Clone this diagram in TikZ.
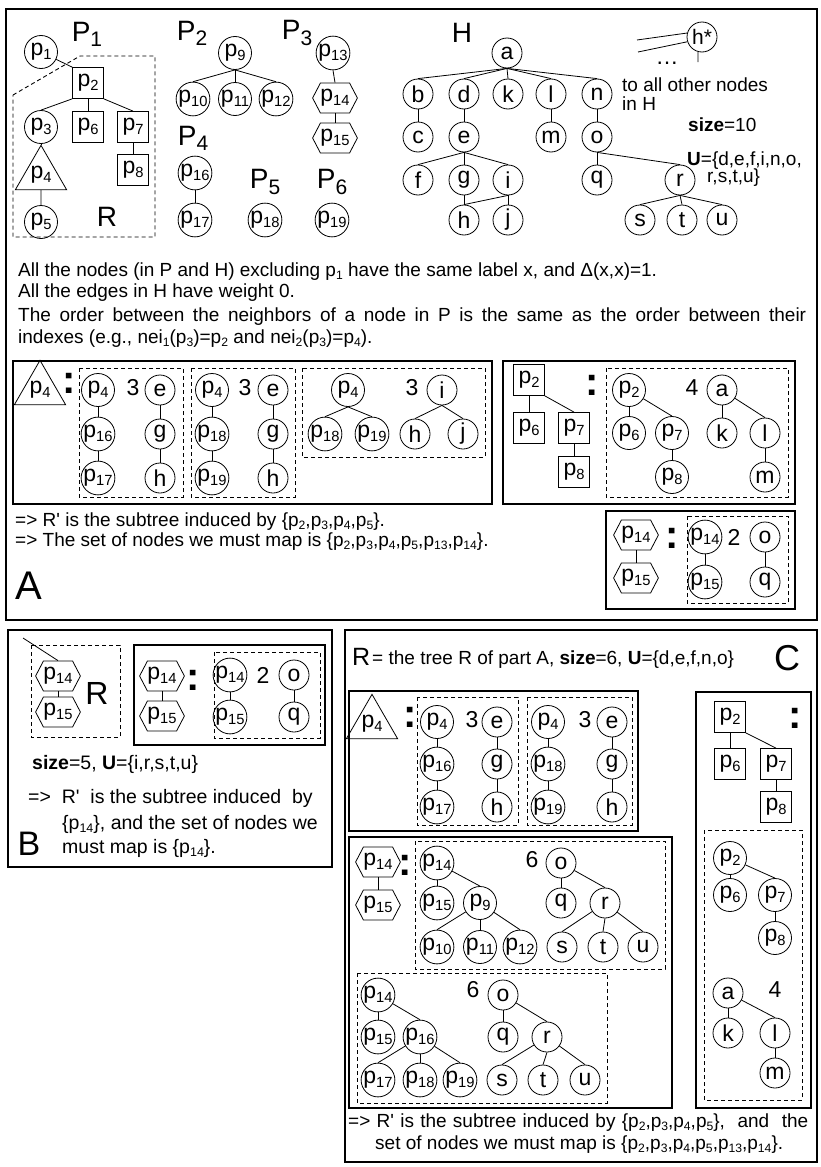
\documentclass[tikz,border=0pt]{standalone}
\usepackage{fontspec}
\setmainfont{Liberation Sans}[Ligatures=TeXOff]
\usepackage{graphicx}
\usetikzlibrary{shapes.geometric,shapes.symbols}
\newcommand\nf{\fontsize{23}{27}\selectfont}
\newcommand\lf{\fontsize{23}{27}\selectfont}
\newcommand\tf{\fontsize{19}{22}\selectfont}
\newcommand\tfb{\fontsize{19.5}{25}\selectfont}
\newcommand\bgf{\fontsize{28}{32}\selectfont}
\newcommand\sbs[1]{\raisebox{-0.3ex}{\scalebox{0.64}{#1}}}
\newcommand\bsbs[1]{\raisebox{-0.35ex}{\scalebox{0.75}{#1}}}
\newcommand\tedge[2]{\draw[edge] (#1.south) -- (#2.north);}
\newcommand\cedge[2]{\draw[edge] (#1) -- (#2.north);}
\begin{document}
\begin{tikzpicture}[x=1pt,y=-1pt,
  pc/.style={circle,draw,line width=0.8pt,minimum size=33pt,inner sep=0pt,font=\nf},
  lc/.style={circle,draw,line width=0.8pt,minimum size=30pt,inner sep=0pt,font=\lf},
  sq/.style={rectangle,draw,line width=0.8pt,minimum size=31pt,inner sep=0pt,font=\nf},
  tri/.style={regular polygon,regular polygon sides=3,draw,line width=0.8pt,minimum size=49pt,inner sep=0pt,font=\nf},
  hexn/.style={signal,signal to=east and west,signal pointer angle=125,draw,line width=0.8pt,minimum width=44pt,minimum height=30pt,inner sep=0pt,font=\nf},
  edge/.style={line width=0.8pt},
  sbox/.style={draw,line width=1.2pt},
  dbox/.style={draw,line width=0.9pt,dash pattern=on 4pt off 3pt},
  txt/.style={anchor=west,inner sep=0pt,font=\tf},
  txtb/.style={anchor=west,inner sep=0pt,font=\tfb},
  num/.style={inner sep=0pt,font=\nf},
  bigl/.style={inner sep=0pt,font=\bgf},
  colon/.style={inner sep=0pt,font=\fontsize{40}{40}\selectfont\bfseries},
]
\useasboundingbox (0,0) rectangle (821,1167);
% ===== outer boxes
\draw[sbox] (6,9) rectangle (817,620);
\draw[sbox] (8,630) rectangle (332,867);
\draw[sbox] (345,630) rectangle (817,1162);

% ===== P1
\node[bigl] (lP1) at (87,34) {P\bsbs{1}};
\node[pc] (tp1) at (41,52) {p\sbs{1}};
\node[sq] (tp2) at (88,83) {p\sbs{2}};
\node[pc] (tp3) at (41,127) {p\sbs{3}};
\node[sq] (tp6) at (88,127) {p\sbs{6}};
\node[sq] (tp7) at (133,127) {p\sbs{7}};
\node[sq] (tp8) at (133,170) {p\sbs{8}};
\node[tri] (tp4) at (41,175) {p\sbs{4}};
\node[pc] (tp5) at (41,222) {p\sbs{5}};
\node[bigl] (lR) at (107,217) {R};
\draw[dbox] (13,95) -- (80,56) -- (155,56) -- (155,237) -- (13,237) -- cycle;
\draw[edge] (tp1) -- (tp2.north west);
\draw[edge] (tp2.south west) -- (tp3.north);
\tedge{tp2}{tp6}
\draw[edge] (tp2.south east) -- (tp7.north);
\tedge{tp7}{tp8}
\draw[edge] (tp3.south) -- (tp4.corner 1);
\tedge{tp4}{tp5}
% P2
\node[bigl] (lP2) at (192,33) {P\bsbs{2}};
\node[pc] (tp9) at (235,53) {p\sbs{9}};
\node[pc] (tp10) at (193,99) {p\sbs{10}};
\node[pc] (tp11) at (235,99) {p\sbs{11}};
\node[pc] (tp12) at (276,99) {p\sbs{12}};
\tedge{tp9}{tp10}\tedge{tp9}{tp11}\tedge{tp9}{tp12}
% P3
\node[bigl] (lP3) at (297,33) {P\bsbs{3}};
\node[pc] (tp13) at (333,53) {p\sbs{13}};
\node[hexn] (tp14) at (335,98) {p\sbs{14}};
\node[hexn] (tp15) at (335,138) {p\sbs{15}};
\tedge{tp13}{tp14}\tedge{tp14}{tp15}
% P4 P5 P6
\node[bigl] (lP4) at (193,138) {P\bsbs{4}};
\node[pc] (tp16) at (195,173) {p\sbs{16}};
\node[pc] (tp17) at (195,220) {p\sbs{17}};
\tedge{tp16}{tp17}
\node[bigl] (lP5) at (265,182) {P\bsbs{5}};
\node[pc] (tp18) at (265,220) {p\sbs{18}};
\node[bigl] (lP6) at (332,182) {P\bsbs{6}};
\node[pc] (tp19) at (332,220) {p\sbs{19}};

% ===== H
\node[bigl] (lH) at (462,33) {H};
\node[lc] (ha) at (507,53) {a};
\node[lc] (hb) at (418,94) {b};
\node[lc] (hd) at (464,94) {d};
\node[lc] (hk) at (508,94) {k};
\node[lc] (hl) at (551,94) {l};
\node[lc] (hn) at (597,94) {n};
\node[lc] (hc) at (418,137) {c};
\node[lc] (he) at (464,137) {e};
\node[lc] (hm) at (551,137) {m};
\node[lc] (ho) at (597,137) {o};
\node[lc] (hf) at (418,180) {f};
\node[lc] (hg) at (464,180) {g};
\node[lc] (hi) at (508,180) {i};
\node[lc] (hq) at (597,180) {q};
\node[lc] (hr) at (680,180) {r};
\node[lc] (hh) at (464,220) {h};
\node[lc] (hj) at (508,220) {j};
\node[lc] (hs) at (640,220) {s};
\node[lc] (ht) at (682,220) {t};
\node[lc] (hu) at (722,220) {u};
\tedge{ha}{hb}\tedge{ha}{hd}\tedge{ha}{hk}\tedge{ha}{hl}\tedge{ha}{hn}
\tedge{hb}{hc}\tedge{hd}{he}\tedge{hl}{hm}\tedge{hn}{ho}
\tedge{he}{hf}\tedge{he}{hg}\tedge{he}{hi}
\tedge{hg}{hh}\tedge{hi}{hh}\tedge{hi}{hj}
\tedge{ho}{hq}\tedge{ho}{hr}
\tedge{hr}{hs}\tedge{hr}{ht}\tedge{hr}{hu}
\node[lc,font=\fontsize{21}{25}\selectfont] (hstar) at (702,37) {h*};
\coordinate (hx1) at (637,40);
\coordinate (hx2) at (638,52);
\coordinate (hx3) at (698,62);
\draw[edge] (hstar.165) -- (hx1);
\draw[edge] (hstar.198) -- (hx2);
\draw[edge] (hstar.255) -- (hx3);
\node[num] (hdots) at (667,63) {…};
\node[txt] (hto1) at (622,85) {to all other nodes};
\node[txt] (hto2) at (622,104) {in H};
\node[txt] (hsize) at (688,125) {\textbf{size}=10};
\node[txt] (hU1) at (687,161) {\textbf{U}=\{d,e,f,i,n,o,};
\node[txt] (hU2) at (707,178) {r,s,t,u\}};

% ===== paragraph
\node[txt] (tx1) at (18,272) {All the nodes (in P and H) excluding p\sbs{1} have the same label x, and Δ(x,x)=1.};
\node[txt] (tx2) at (18,293) {All the edges in H have weight 0.};
\node[txt] (tx3) at (18,317) {\makebox[788pt][s]{The order between the neighbors of a node in P is the same as the order between their}};
\node[txt] (tx4) at (18,339) {indexes (e.g., nei\sbs{1}(p\sbs{3})=p\sbs{2} and nei\sbs{2}(p\sbs{3})=p\sbs{4}).};

% ===== A left box
\draw[sbox] (13,361) rectangle (492,504);
\node[tri] (alt) at (40,390) {p\sbs{4}};
\node[colon] (alc) at (69,383) {:};
\draw[dbox] (79,368) rectangle (183,497);
\node[pc] (a1p4) at (98,390) {p\sbs{4}};
\node[num] (a1n) at (133,388) {3};
\node[lc] (a1e) at (160,390) {e};
\node[pc] (a1p16) at (98,434) {p\sbs{16}};
\node[lc] (a1g) at (160,434) {g};
\node[pc] (a1p17) at (98,478) {p\sbs{17}};
\node[lc] (a1h) at (160,478) {h};
\tedge{a1p4}{a1p16}\tedge{a1p16}{a1p17}\tedge{a1e}{a1g}\tedge{a1g}{a1h}
\draw[dbox] (191,368) rectangle (295,497);
\node[pc] (a2p4) at (212,390) {p\sbs{4}};
\node[num] (a2n) at (245,388) {3};
\node[lc] (a2e) at (273,390) {e};
\node[pc] (a2p18) at (212,434) {p\sbs{18}};
\node[lc] (a2g) at (273,434) {g};
\node[pc] (a2p19) at (212,478) {p\sbs{19}};
\node[lc] (a2h) at (273,478) {h};
\tedge{a2p4}{a2p18}\tedge{a2p18}{a2p19}\tedge{a2e}{a2g}\tedge{a2g}{a2h}
\draw[dbox] (302,368) rectangle (485,457);
\node[pc] (a3p4) at (348,390) {p\sbs{4}};
\node[num] (a3n) at (412,388) {3};
\node[lc] (a3i) at (442,390) {i};
\node[pc] (a3p18) at (325,434) {p\sbs{18}};
\node[pc] (a3p19) at (372,434) {p\sbs{19}};
\node[lc] (a3h) at (415,434) {h};
\node[lc] (a3j) at (463,434) {j};
\tedge{a3p4}{a3p18}\tedge{a3p4}{a3p19}\tedge{a3i}{a3h}\tedge{a3i}{a3j}

% ===== A right box
\draw[sbox] (503,361) rectangle (795,504);
\node[sq] (arp2) at (529,380) {p\sbs{2}};
\node[colon] (arc) at (592,385) {:};
\node[sq] (arp6) at (529,428) {p\sbs{6}};
\node[sq] (arp7) at (574,428) {p\sbs{7}};
\node[sq] (arp8) at (574,472) {p\sbs{8}};
\tedge{arp2}{arp6}
\draw[edge] (arp2.south east) -- (arp7.north);
\tedge{arp7}{arp8}
\draw[dbox] (606,368) rectangle (788,497);
\node[pc] (arcp2) at (629,390) {p\sbs{2}};
\node[num] (arn) at (692,388) {4};
\node[lc] (arca) at (722,390) {a};
\node[pc] (arcp6) at (629,433) {p\sbs{6}};
\node[pc] (arcp7) at (672,433) {p\sbs{7}};
\node[pc] (arcp8) at (672,477) {p\sbs{8}};
\node[lc] (arck) at (722,433) {k};
\node[lc] (arcl) at (765,433) {l};
\node[lc] (arcm) at (765,477) {m};
\tedge{arcp2}{arcp6}\cedge{arcp2}{arcp7}\tedge{arcp7}{arcp8}
\tedge{arca}{arck}\cedge{arca}{arcl}\tedge{arcl}{arcm}

% ===== A bottom-right box
\draw[sbox] (606,511) rectangle (795,609);
\node[hexn] (abh14) at (636,535) {p\sbs{14}};
\node[hexn] (abh15) at (636,578) {p\sbs{15}};
\tedge{abh14}{abh15}
\node[colon] (abc) at (672,538) {:};
\draw[dbox] (687,516) rectangle (788,603);
\node[pc] (abp14) at (705,537) {p\sbs{14}};
\node[num] (abn) at (734,537) {2};
\node[lc] (abo) at (765,537) {o};
\node[pc] (abp15) at (705,582) {p\sbs{15}};
\node[lc] (abq) at (765,582) {q};
\tedge{abp14}{abp15}\tedge{abo}{abq}

\node[txt] (atx1) at (15,522) {=> R' is the subtree induced by \{p\sbs{2},p\sbs{3},p\sbs{4},p\sbs{5}\}.};
\node[txt] (atx2) at (15,542) {=> The set of nodes we must map is \{p\sbs{2},p\sbs{3},p\sbs{4},p\sbs{5},p\sbs{13},p\sbs{14}\}.};
\node[inner sep=0pt,font=\fontsize{40}{40}\selectfont] (lA) at (29,586) {A};

% ===== B
\coordinate (bx) at (23,638);
\draw[dbox] (31,645) rectangle (120,737);
\node[hexn] (bh14) at (58,676) {p\sbs{14}};
\node[hexn] (bh15) at (58,712) {p\sbs{15}};
\draw[edge] (bx) -- (bh14.north);
\tedge{bh14}{bh15}
\node[inner sep=0pt,font=\fontsize{32}{32}\selectfont] (bR) at (97,693) {R};
\draw[sbox] (134,645) rectangle (325,745);
\node[hexn] (bbh14) at (162,676) {p\sbs{14}};
\node[hexn] (bbh15) at (162,716) {p\sbs{15}};
\tedge{bbh14}{bbh15}
\node[colon] (bc) at (193,680) {:};
\draw[dbox] (214,652) rectangle (320,738);
\node[pc] (bp14) at (230,675) {p\sbs{14}};
\node[num] (bn) at (263,675) {2};
\node[lc] (bo) at (294,675) {o};
\node[pc] (bp15) at (230,717) {p\sbs{15}};
\node[lc] (bq) at (294,717) {q};
\tedge{bp14}{bp15}\tedge{bo}{bq}
\node[txtb] (btx0) at (32,764) {\textbf{size}=5, \textbf{U}=\{i,r,s,t,u\}};
\node[txtb] (btx1) at (28,798) {=>\ \ R'\ \ is the subtree induced\ \ by};
\node[txtb] (btx2) at (62,824) {\{p\sbs{14}\}, and the set of nodes we};
\node[txtb] (btx3) at (62,848) {must map is \{p\sbs{14}\}.};
\node[inner sep=0pt,font=\fontsize{34}{34}\selectfont] (lB) at (29,844) {B};

% ===== C
\node[inner sep=0pt,anchor=west,font=\fontsize{25}{25}\selectfont] (cR) at (352,657) {R};
\node[txt] (ctx0) at (372,660) {= the tree R of part A, \textbf{size}=6, \textbf{U}=\{d,e,f,n,o\}};
\node[inner sep=0pt,font=\fontsize{36}{36}\selectfont] (lC) at (787,658) {C};
% C1
\draw[sbox] (349,691) rectangle (638,831);
\node[tri] (c1t) at (372,724) {p\sbs{4}};
\node[colon] (c1c) at (410,717) {:};
\draw[dbox] (417,697) rectangle (518,825);
\node[pc] (c1p4) at (437,722) {p\sbs{4}};
\node[num] (c1n) at (472,720) {3};
\node[lc] (c1e) at (497,722) {e};
\node[pc] (c1p16) at (437,764) {p\sbs{16}};
\node[lc] (c1g) at (497,764) {g};
\node[pc] (c1p17) at (437,807) {p\sbs{17}};
\node[lc] (c1h) at (497,807) {h};
\tedge{c1p4}{c1p16}\tedge{c1p16}{c1p17}\tedge{c1e}{c1g}\tedge{c1g}{c1h}
\draw[dbox] (527,697) rectangle (632,825);
\node[pc] (c2p4) at (548,722) {p\sbs{4}};
\node[num] (c2n) at (585,720) {3};
\node[lc] (c2e) at (612,722) {e};
\node[pc] (c2p18) at (548,764) {p\sbs{18}};
\node[lc] (c2g) at (612,764) {g};
\node[pc] (c2p19) at (548,807) {p\sbs{19}};
\node[lc] (c2h) at (612,807) {h};
\tedge{c2p4}{c2p18}\tedge{c2p18}{c2p19}\tedge{c2e}{c2g}\tedge{c2g}{c2h}
% C2
\draw[sbox] (349,837) rectangle (672,1108);
\node[hexn] (chh14) at (378,862) {p\sbs{14}};
\node[hexn] (chh15) at (378,905) {p\sbs{15}};
\tedge{chh14}{chh15}
\node[colon] (chc) at (405,865) {:};
\draw[dbox] (415,841) rectangle (665,969);
\node[pc] (d1p14) at (437,863) {p\sbs{14}};
\node[num] (d1n) at (532,860) {6};
\node[lc] (d1o) at (561,863) {o};
\node[pc] (d1p15) at (437,903) {p\sbs{15}};
\node[pc] (d1p9) at (480,903) {p\sbs{9}};
\node[lc] (d1q) at (561,903) {q};
\node[lc] (d1r) at (605,903) {r};
\node[pc] (d1p10) at (437,947) {p\sbs{10}};
\node[pc] (d1p11) at (480,947) {p\sbs{11}};
\node[pc] (d1p12) at (520,947) {p\sbs{12}};
\node[lc] (d1s) at (562,947) {s};
\node[lc] (d1t) at (603,947) {t};
\node[lc] (d1u) at (643,947) {u};
\tedge{d1p14}{d1p15}\cedge{d1p14}{d1p9}
\cedge{d1p9}{d1p10}\tedge{d1p9}{d1p11}\cedge{d1p9}{d1p12}
\tedge{d1o}{d1q}\cedge{d1o}{d1r}
\cedge{d1r}{d1s}\tedge{d1r}{d1t}\cedge{d1r}{d1u}
\draw[dbox] (357,973) rectangle (607,1103);
\node[pc] (d2p14) at (378,995) {p\sbs{14}};
\node[num] (d2n) at (473,990) {6};
\node[lc] (d2o) at (503,995) {o};
\node[pc] (d2p15) at (378,1037) {p\sbs{15}};
\node[pc] (d2p16) at (420,1037) {p\sbs{16}};
\node[lc] (d2q) at (503,1037) {q};
\node[lc] (d2r) at (547,1037) {r};
\node[pc] (d2p17) at (378,1080) {p\sbs{17}};
\node[pc] (d2p18) at (420,1080) {p\sbs{18}};
\node[pc] (d2p19) at (460,1080) {p\sbs{19}};
\node[lc] (d2s) at (502,1080) {s};
\node[lc] (d2t) at (543,1080) {t};
\node[lc] (d2u) at (585,1080) {u};
\tedge{d2p14}{d2p15}\cedge{d2p14}{d2p16}
\cedge{d2p16}{d2p17}\tedge{d2p16}{d2p18}\cedge{d2p16}{d2p19}
\tedge{d2o}{d2q}\cedge{d2o}{d2r}
\cedge{d2r}{d2s}\tedge{d2r}{d2t}\cedge{d2r}{d2u}
% C3
\draw[sbox] (696,692) rectangle (811,1108);
\node[sq] (e1p2) at (730,717) {p\sbs{2}};
\node[colon] (e1c) at (795,718) {:};
\node[sq] (e1p6) at (730,764) {p\sbs{6}};
\node[sq] (e1p7) at (776,764) {p\sbs{7}};
\node[sq] (e1p8) at (776,807) {p\sbs{8}};
\tedge{e1p2}{e1p6}
\draw[edge] (e1p2.south east) -- (e1p7.north);
\tedge{e1p7}{e1p8}
\draw[dbox] (704,830) rectangle (802,1100);
\node[pc] (e2p2) at (730,858) {p\sbs{2}};
\node[pc] (e2p6) at (730,895) {p\sbs{6}};
\node[pc] (e2p7) at (775,895) {p\sbs{7}};
\node[pc] (e2p8) at (775,938) {p\sbs{8}};
\tedge{e2p2}{e2p6}\cedge{e2p2}{e2p7}\tedge{e2p7}{e2p8}
\node[lc] (e2a) at (728,993) {a};
\node[num] (e2n) at (775,990) {4};
\node[lc] (e2k) at (728,1033) {k};
\node[lc] (e2l) at (775,1033) {l};
\node[lc] (e2m) at (775,1073) {m};
\tedge{e2a}{e2k}\cedge{e2a}{e2l}\tedge{e2l}{e2m}

\node[txt] (ctx1) at (348,1123) {\makebox[460pt][s]{=> R' is the subtree induced by \{p\sbs{2},p\sbs{3},p\sbs{4},p\sbs{5}\},\ \ and\ \ the}};
\node[txt] (ctx2) at (375,1145) {set of nodes we must map is \{p\sbs{2},p\sbs{3},p\sbs{4},p\sbs{5},p\sbs{13},p\sbs{14}\}.};
\end{tikzpicture}
\end{document}
